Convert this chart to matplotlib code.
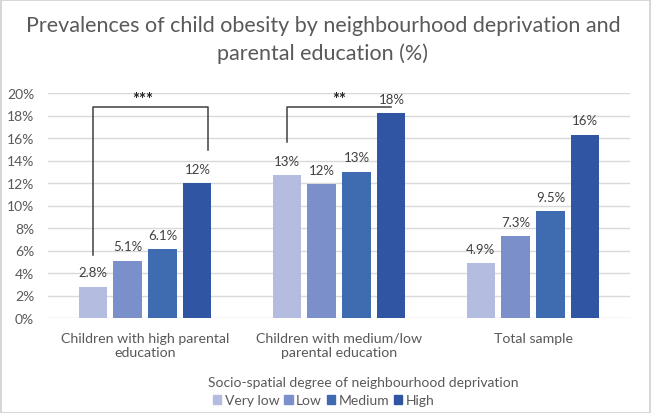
import numpy as np
import matplotlib
matplotlib.use("Agg")
import matplotlib.pyplot as plt
from matplotlib.patches import Rectangle, Patch

plt.rcParams["font.family"] = ["Lato", "DejaVu Sans"]

# data
groups = ["Children with high parental\neducation",
          "Children with medium/low\nparental education",
          "Total sample"]
levels = ["Very low", "Low", "Medium", "High"]
very_low = [2.8, 12.7, 4.9]
low = [5.1, 11.9, 7.3]
medium = [6.1, 13.0, 9.5]
high = [12.0, 18.2, 16.3]
bar_labels = [["2.8%", "13%", "4.9%"],
              ["5.1%", "12%", "7.3%"],
              ["6.1%", "13%", "9.5%"],
              ["12%", "18%", "16%"]]
yticks = [0, 2, 4, 6, 8, 10, 12, 14, 16, 18, 20]

colors = ["#b4bde0", "#7b90cb", "#3f6bb1", "#2f55a3"]
text_col = "#595959"

fig = plt.figure(figsize=(6.51, 4.14), dpi=100)
ax = fig.add_axes([48 / 651, 1 - 319 / 414, 582 / 651, 225 / 414])

x = np.arange(len(groups))
step = 0.18
width = 0.145
series = [very_low, low, medium, high]
for i, (vals, lab) in enumerate(zip(series, bar_labels)):
    bars = ax.bar(x + (i - 1.5) * step, vals, width, color=colors[i],
                  label=levels[i], zorder=3)
    ax.bar_label(bars, labels=lab, padding=6, fontsize=9.5, color="#404040")

ax.set_xlim(-0.5, 2.5)
ax.set_ylim(0, 20)
ax.set_yticks(yticks)
ax.set_yticklabels([f"{t}%" for t in yticks], fontsize=10, color=text_col)
ax.set_xticks(x)
ax.set_xticklabels(groups, fontsize=10.2, color=text_col, linespacing=1.2)
ax.tick_params(length=0, pad=10)
ax.tick_params(axis="y", pad=10)
ax.grid(axis="y", color="#d9d9d9", linewidth=1, zorder=0)
for s in ax.spines.values():
    s.set_visible(False)

# significance brackets
bc = "#404040"
x0 = -1.5 * step
ax.plot([x0, x0, 0.325, 0.325], [5.6, 18.76, 18.76, 14.93], color=bc, lw=1.1, zorder=4)
ax.text(-0.01, 18.75, "***", ha="center", va="bottom", fontsize=12, color="#222222", fontweight="bold")
ax.plot([1 + x0, 1 + x0, 1 + 1.5 * step], [15.64, 18.76, 18.76], color=bc, lw=1.1, zorder=4)
ax.text(1.0, 18.75, "**", ha="center", va="bottom", fontsize=12, color="#222222", fontweight="bold")

# title
fig.text(0.496, 1 - 32 / 414, "Prevalences of child obesity by neighbourhood deprivation and",
         ha="center", va="baseline", fontsize=15.5, color=text_col)
fig.text(0.496, 1 - 60 / 414, "parental education (%)",
         ha="center", va="baseline", fontsize=15.5, color=text_col)

# legend
fig.text(208 / 651, 1 - 383 / 414, "Socio-spatial degree of neighbourhood deprivation",
         ha="left", va="center", fontsize=10, color=text_col)
handles = [Patch(color=c) for c in colors]
leg = fig.legend(handles, levels, loc="center left", bbox_to_anchor=(213 / 651, 1 - 401 / 414),
                 ncol=4, frameon=False, fontsize=10, handlelength=0.6, handleheight=0.6,
                 handletextpad=0.25, columnspacing=0.35, borderpad=0, borderaxespad=0)
for t in leg.get_texts():
    t.set_color(text_col)

fig.patches.append(Rectangle((0.001, 0.001), 0.997, 0.997, transform=fig.transFigure,
                             fill=False, edgecolor="#d0d0d0", lw=1.2))

fig.savefig("out.png", dpi=100)
